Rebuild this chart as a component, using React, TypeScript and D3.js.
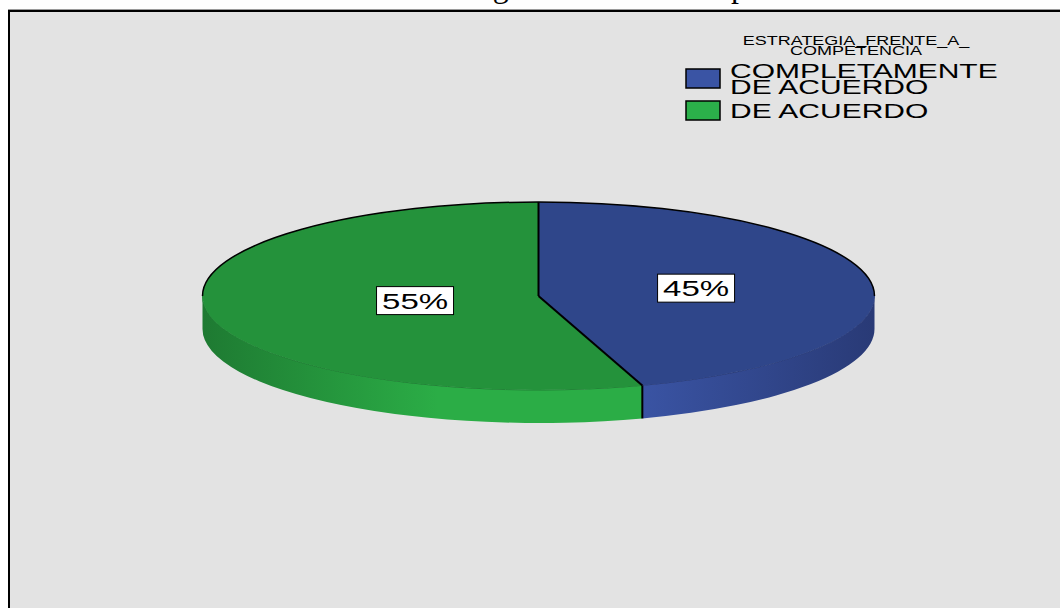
import React from 'react';
import * as d3 from 'd3';

const chartTitle = 'Estrategia frente a la competencia';
const legendTitle = ['ESTRATEGIA_FRENTE_A_', 'COMPETENCIA'];
const categories = ['COMPLETAMENTE DE ACUERDO', 'DE ACUERDO'];
const legendLines = [['COMPLETAMENTE', 'DE ACUERDO'], ['DE ACUERDO']];
const values = [45, 55];
const topColors = ['#2f468a', '#24923b'];
const sideColors = ['#3a54a4', '#2bad46'];
const edgeColors = ['#293a76', '#1e7a32'];
const swatchColors = ['#3a54a4', '#2bb04a'];

const W = 1060;
const H = 608;
const cx = 538.5;
const cy = 296;
const rx = 336;
const ry = 94;
const depth = 33;
const stretch = 1.5;

// point on the top ellipse, angle clockwise from 12 o'clock
const pt = (a: number, dy = 0): [number, number] => [cx + rx * Math.sin(a), cy - ry * Math.cos(a) + dy];

const topPath = (a0: number, a1: number) => {
  const [x0, y0] = pt(a0);
  const [x1, y1] = pt(a1);
  const large = a1 - a0 > Math.PI ? 1 : 0;
  return `M${cx},${cy}L${x0},${y0}A${rx},${ry} 0 ${large} 1 ${x1},${y1}Z`;
};

const sidePath = (a0: number, a1: number) => {
  const s = Math.max(a0, Math.PI / 2);
  const e = Math.min(a1, (3 * Math.PI) / 2);
  if (e <= s) return null;
  const [x0, y0] = pt(s);
  const [x1, y1] = pt(e);
  return `M${x0},${y0}A${rx},${ry} 0 0 1 ${x1},${y1}L${x1},${y1 + depth}A${rx},${ry} 0 0 0 ${x0},${y0 + depth}Z`;
};

const App = () => {
  const arcs = d3.pie<number>().sort(null).value((d) => d)(values);
  const total = d3.sum(values);

  const [bx0, by0] = pt(-Math.PI / 2);
  const [bx1, by1] = pt(Math.PI / 2);
  const backRim = `M${bx0},${by0}A${rx},${ry} 0 0 1 ${bx1},${by1}`;

  return (
    <svg width={W} height={H} style={{ position: 'absolute', left: 0, top: 0, background: '#fff' }}>
      <defs>
        {arcs.map((d, i) => (
          <linearGradient key={i} id={`side${i}`} gradientUnits="userSpaceOnUse" x1={cx - rx} x2={cx + rx} y1={0} y2={0}>
            <stop offset="0%" stopColor={edgeColors[i]} />
            <stop offset="35%" stopColor={sideColors[i]} />
            <stop offset="65%" stopColor={sideColors[i]} />
            <stop offset="100%" stopColor={edgeColors[i]} />
          </linearGradient>
        ))}
      </defs>

      <text x={404} y={-3} fontFamily="'Liberation Serif', serif" fontSize={32} fill="#000">
        {chartTitle}
      </text>

      <line x1={8} x2={W} y1={9.5} y2={9.5} stroke="#9a9a9a" strokeWidth={1} />
      <rect x={9} y={11} width={W + 20} height={H + 20} fill="#e3e3e3" stroke="#000" strokeWidth={2} />

      {/* sides */}
      {arcs.map((d, i) => {
        const p = sidePath(d.startAngle, d.endAngle);
        return p ? <path key={i} d={p} fill={`url(#side${i})`} /> : null;
      })}
      {/* rim between top and side */}
      {arcs.map((d, i) => {
        const s = Math.max(d.startAngle, Math.PI / 2);
        const e = Math.min(d.endAngle, (3 * Math.PI) / 2);
        if (e <= s) return null;
        const [x0, y0] = pt(s);
        const [x1, y1] = pt(e);
        return (
          <path key={i} d={`M${x0},${y0}A${rx},${ry} 0 0 1 ${x1},${y1}`} fill="none" stroke={edgeColors[i]} strokeWidth={1} />
        );
      })}
      {/* top faces */}
      {arcs.map((d, i) => (
        <path key={i} d={topPath(d.startAngle, d.endAngle)} fill={topColors[i]} />
      ))}
      <path d={backRim} fill="none" stroke="#000" strokeWidth={1.5} />
      {/* slice dividers */}
      {arcs.map((d, i) => {
        const [x, y] = pt(d.startAngle);
        const front = Math.cos(d.startAngle) < 0;
        return (
          <g key={i}>
            <line x1={cx} y1={cy} x2={x} y2={y} stroke="#000" strokeWidth={2} />
            {front && <line x1={x} y1={y} x2={x} y2={y + depth} stroke="#000" strokeWidth={2} />}
          </g>
        );
      })}

      {/* percent labels at sector centroids */}
      {arcs.map((d, i) => {
        const half = (d.endAngle - d.startAngle) / 2;
        const mid = d.startAngle + half;
        const k = ((2 / 3) * Math.sin(half)) / half;
        const lx = cx + rx * k * Math.sin(mid) + 3;
        const ly = cy - ry * k * Math.cos(mid) - 1;
        const label = d3.format('.0%')(d.value / total);
        return (
          <g key={i} transform={`translate(${lx},${ly})`}>
            <rect x={-38.5} y={-14} width={77} height={28} fill="#fff" stroke="#000" strokeWidth={1} />
            <text
              transform={`scale(${stretch},1)`}
              textAnchor="middle"
              y={8}
              fontFamily="'Liberation Sans', Arial, sans-serif"
              fontSize={22}
              fill="#000"
            >
              {label}
            </text>
          </g>
        );
      })}

      {/* legend */}
      <g fontFamily="'Liberation Sans', Arial, sans-serif" fill="#000">
        {legendTitle.map((t, i) => (
          <text key={i} transform={`translate(856,${45 + i * 10}) scale(${stretch},1)`} textAnchor="middle" fontSize={12}>
            {t}
          </text>
        ))}
        {categories.map((c, i) => {
          const y0 = i === 0 ? 69 : 101;
          const mid = y0 + 9.5;
          const lines = legendLines[i];
          const first = mid - (lines.length - 1) * 8 + 7;
          return (
            <g key={c}>
              <rect x={686} y={y0} width={34} height={19} fill={swatchColors[i]} stroke="#000" strokeWidth={1.5} />
              {lines.map((l, j) => (
                <text key={j} transform={`translate(730,${first + j * 16}) scale(${stretch},1)`} fontSize={20}>
                  {l}
                </text>
              ))}
            </g>
          );
        })}
      </g>
    </svg>
  );
};

export default App;
